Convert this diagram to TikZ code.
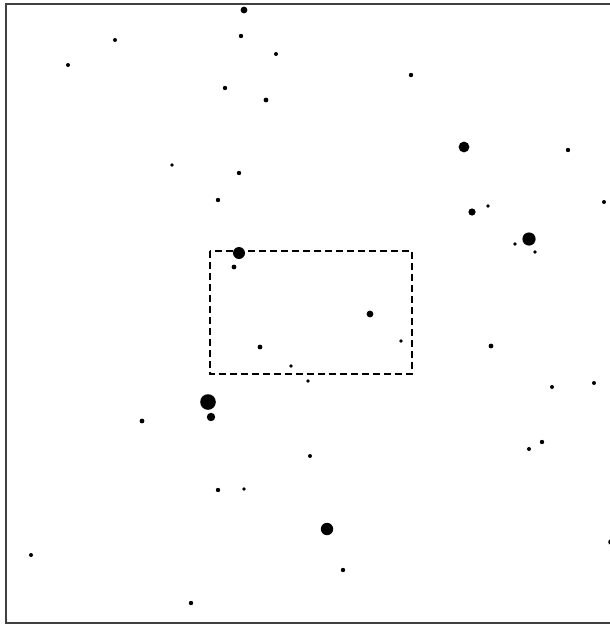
\documentclass[tikz,border=0pt]{standalone}
\usepackage{tikz}

\tikzset{
    star/.style={fill=black},
    field/.style={draw=black!75, line width=1.8pt},
    window/.style={draw=black, line width=1.4pt, dash pattern=on 7pt off 4pt},
}

\begin{document}
\begin{tikzpicture}[x=1pt, y=-1pt]
            \useasboundingbox (0,0) rectangle (610,624);
            \clip (0,0) rectangle (610,624);
            % outer frame, open on the right
            \draw[field] (640,4) -- (6,4) -- (6,623) -- (640,623);
            % stars: x, y, radius
            \foreach \x/\y/\r in {
                244/10/3.4, 115/40/2, 68/65/2, 241/36/2.2, 276/54/2,
                225/88/2.2, 266/100/2.4, 172/165/1.8, 239/173/2.2, 218/200/2.2,
                411/75/2.2, 464/147/5.4, 568/150/2.2, 604/202/2, 488/206/1.8,
                472/212/3.6, 529/239/6.6, 515/244/1.8, 535/252/1.8,
                239/253/6, 234/267/2.4, 260/347/2.4, 291/366/1.8,
                370/314/3.4, 401/341/1.9, 491/346/2.4, 308/381/1.9,
                552/387/2, 594/383/2,
                208/402/7.8, 211/417/4.2, 142/421/2.4,
                218/490/2.2, 244/489/1.9, 31/555/2, 191/603/2.2,
                310/456/2, 529/449/2, 542/442/2.2,
                327/529/6.2, 343/570/2.2, 611/542/2.8}
                \fill[star] (\x,\y) circle (\r);
            % search window
            \draw[window] (210,251) rectangle (412,374);
        \end{tikzpicture}
\end{document}
